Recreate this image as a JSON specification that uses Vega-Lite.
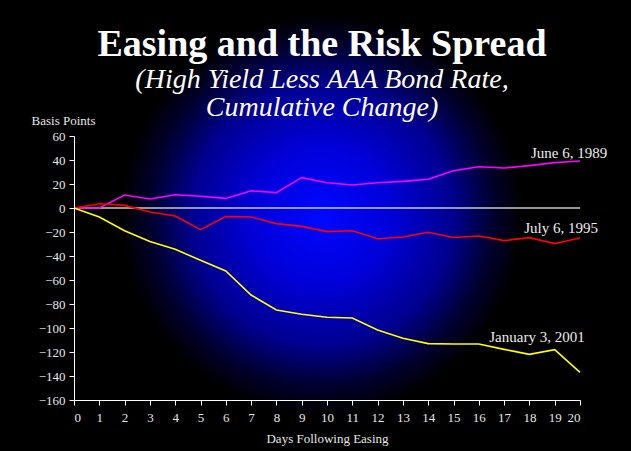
{
  "$schema": "https://vega.github.io/schema/vega-lite/v6.json",
  "width": 506,
  "height": 264,
  "autosize": "none",
  "padding": {"left": 74, "top": 136, "right": 51, "bottom": 51},
  "background": "#000000",
  "title": {
    "text": "Easing and the Risk Spread",
    "subtitle": ["(High Yield Less AAA Bond Rate,", "Cumulative Change)"],
    "anchor": "middle",
    "frame": "group",
    "offset": -107,
    "dx": -5,
    "zindex": 1,
    "font": "Liberation Serif",
    "fontSize": 38,
    "fontWeight": "bold",
    "color": "#ffffff",
    "subtitleFont": "Liberation Serif",
    "subtitleFontSize": 28,
    "subtitleFontStyle": "italic",
    "subtitleColor": "#ffffff",
    "subtitleLineHeight": 28,
    "subtitlePadding": 2
  },
  "resolve": {"axis": {"x": "independent", "y": "independent"}},
  "config": {
    "view": {"stroke": null}
  },
  "datasets": {
    "spread": [
      {"day": 0, "series": "June 6, 1989", "value": 0},
      {"day": 1, "series": "June 6, 1989", "value": 0},
      {"day": 2, "series": "June 6, 1989", "value": 10.8},
      {"day": 3, "series": "June 6, 1989", "value": 7.5},
      {"day": 4, "series": "June 6, 1989", "value": 11},
      {"day": 5, "series": "June 6, 1989", "value": 9.8},
      {"day": 6, "series": "June 6, 1989", "value": 8},
      {"day": 7, "series": "June 6, 1989", "value": 14.3},
      {"day": 8, "series": "June 6, 1989", "value": 12.8},
      {"day": 9, "series": "June 6, 1989", "value": 25.3},
      {"day": 10, "series": "June 6, 1989", "value": 21.1},
      {"day": 11, "series": "June 6, 1989", "value": 19.2},
      {"day": 12, "series": "June 6, 1989", "value": 21.1},
      {"day": 13, "series": "June 6, 1989", "value": 22.2},
      {"day": 14, "series": "June 6, 1989", "value": 24},
      {"day": 15, "series": "June 6, 1989", "value": 31},
      {"day": 16, "series": "June 6, 1989", "value": 34.4},
      {"day": 17, "series": "June 6, 1989", "value": 33.3},
      {"day": 18, "series": "June 6, 1989", "value": 35.3},
      {"day": 19, "series": "June 6, 1989", "value": 37.8},
      {"day": 20, "series": "June 6, 1989", "value": 39.2},
      {"day": 0, "series": "July 6, 1995", "value": 0},
      {"day": 1, "series": "July 6, 1995", "value": 3.6},
      {"day": 2, "series": "July 6, 1995", "value": 2.2},
      {"day": 3, "series": "July 6, 1995", "value": -3.3},
      {"day": 4, "series": "July 6, 1995", "value": -6.7},
      {"day": 5, "series": "July 6, 1995", "value": -18},
      {"day": 6, "series": "July 6, 1995", "value": -7.2},
      {"day": 7, "series": "July 6, 1995", "value": -7.5},
      {"day": 8, "series": "July 6, 1995", "value": -13},
      {"day": 9, "series": "July 6, 1995", "value": -15.3},
      {"day": 10, "series": "July 6, 1995", "value": -19.7},
      {"day": 11, "series": "July 6, 1995", "value": -18.9},
      {"day": 12, "series": "July 6, 1995", "value": -25.6},
      {"day": 13, "series": "July 6, 1995", "value": -24.2},
      {"day": 14, "series": "July 6, 1995", "value": -20.2},
      {"day": 15, "series": "July 6, 1995", "value": -24.6},
      {"day": 16, "series": "July 6, 1995", "value": -23.3},
      {"day": 17, "series": "July 6, 1995", "value": -27.2},
      {"day": 18, "series": "July 6, 1995", "value": -24.7},
      {"day": 19, "series": "July 6, 1995", "value": -29.7},
      {"day": 20, "series": "July 6, 1995", "value": -25},
      {"day": 0, "series": "January 3, 2001", "value": 0},
      {"day": 1, "series": "January 3, 2001", "value": -7.5},
      {"day": 2, "series": "January 3, 2001", "value": -19},
      {"day": 3, "series": "January 3, 2001", "value": -28},
      {"day": 4, "series": "January 3, 2001", "value": -34.4},
      {"day": 5, "series": "January 3, 2001", "value": -43.6},
      {"day": 6, "series": "January 3, 2001", "value": -52.5},
      {"day": 7, "series": "January 3, 2001", "value": -72.5},
      {"day": 8, "series": "January 3, 2001", "value": -85},
      {"day": 9, "series": "January 3, 2001", "value": -88.6},
      {"day": 10, "series": "January 3, 2001", "value": -91.1},
      {"day": 11, "series": "January 3, 2001", "value": -91.7},
      {"day": 12, "series": "January 3, 2001", "value": -101.7},
      {"day": 13, "series": "January 3, 2001", "value": -108.6},
      {"day": 14, "series": "January 3, 2001", "value": -113},
      {"day": 15, "series": "January 3, 2001", "value": -113.3},
      {"day": 16, "series": "January 3, 2001", "value": -113.3},
      {"day": 17, "series": "January 3, 2001", "value": -117.8},
      {"day": 18, "series": "January 3, 2001", "value": -122},
      {"day": 19, "series": "January 3, 2001", "value": -118},
      {"day": 20, "series": "January 3, 2001", "value": -137}
    ],
    "labels": [
      {"series": "June 6, 1989", "day": 19.57, "value": 45.8},
      {"series": "July 6, 1995", "day": 19.25, "value": -16.4},
      {"series": "January 3, 2001", "day": 18.3, "value": -107.5}
    ]
  },
  "layer": [
    {
      "data": {"values": [{}]},
      "mark": {
        "type": "rect",
        "clip": false,
        "fill": {
          "gradient": "radial",
          "x1": 0.5, "y1": 0.5, "r1": 0,
          "x2": 0.5, "y2": 0.5, "r2": 0.5,
          "stops": [
            {"offset": 0, "color": "#0008ff"},
            {"offset": 0.35, "color": "#0000d8"},
            {"offset": 0.65, "color": "#000090"},
            {"offset": 0.85, "color": "#000030"},
            {"offset": 1, "color": "#000000"}
          ]
        }
      },
      "encoding": {
        "x": {"datum": 1.9, "type": "quantitative", "scale": {"domain": [0, 20], "nice": false}, "axis": null},
        "x2": {"datum": 17.7},
        "y": {"datum": -172.5, "type": "quantitative", "scale": {"domain": [-160, 60], "nice": false}, "axis": null},
        "y2": {"datum": 160.8}
      }
    },
    {
      "data": {"values": [{}]},
      "mark": {"type": "rule", "color": "#c8c8c8", "strokeWidth": 1.5},
      "encoding": {
        "x": {"datum": 0, "type": "quantitative", "axis": null},
        "x2": {"datum": 20},
        "y": {"datum": 0, "type": "quantitative", "axis": null}
      }
    },
    {
      "data": {"name": "spread"},
      "mark": {"type": "line", "strokeWidth": 1.6},
      "encoding": {
        "x": {
          "field": "day",
          "type": "quantitative",
          "axis": {
            "values": [0,1,2,3,4,5,6,7,8,9,10,11,12,13,14,15,16,17,18,19,20],
            "title": "Days Following Easing",
            "labelOverlap": false,
            "labelPadding": 6,
            "titlePadding": 8,
            "labelFont": "Liberation Serif",
            "labelFontSize": 13,
            "labelColor": "#e6e6e6",
            "titleFont": "Liberation Serif",
            "titleFontSize": 13,
            "titleFontWeight": "normal",
            "titleColor": "#e6e6e6",
            "domainColor": "#ffffff",
            "tickColor": "#ffffff",
            "tickSize": 5,
            "grid": false,
            "zindex": 1
          }
        },
        "y": {
          "field": "value",
          "type": "quantitative",
          "axis": {
            "values": [-160,-140,-120,-100,-80,-60,-40,-20,0,20,40,60],
            "title": "Basis Points",
            "labelOverlap": false,
            "titleAngle": 0,
            "titleAlign": "center",
            "titleBaseline": "alphabetic",
            "titleX": -11,
            "titleY": -12,
            "labelPadding": 4,
            "labelFont": "Liberation Serif",
            "labelFontSize": 13,
            "labelColor": "#e6e6e6",
            "titleFont": "Liberation Serif",
            "titleFontSize": 13,
            "titleFontWeight": "normal",
            "titleColor": "#e6e6e6",
            "domainColor": "#ffffff",
            "tickColor": "#ffffff",
            "tickSize": 5,
            "grid": false,
            "zindex": 1
          }
        },
        "color": {
          "field": "series",
          "type": "nominal",
          "scale": {
            "domain": ["June 6, 1989", "July 6, 1995", "January 3, 2001"],
            "range": ["#ff00ff", "#ff0000", "#ffff00"]
          },
          "legend": null
        }
      }
    },
    {
      "data": {"name": "labels"},
      "mark": {
        "type": "text",
        "font": "Liberation Serif",
        "fontSize": 15,
        "color": "#ececec",
        "align": "center",
        "baseline": "middle",
        "clip": false
      },
      "encoding": {
        "x": {"field": "day", "type": "quantitative", "axis": null},
        "y": {"field": "value", "type": "quantitative", "axis": null},
        "text": {"field": "series"}
      }
    }
  ]
}
